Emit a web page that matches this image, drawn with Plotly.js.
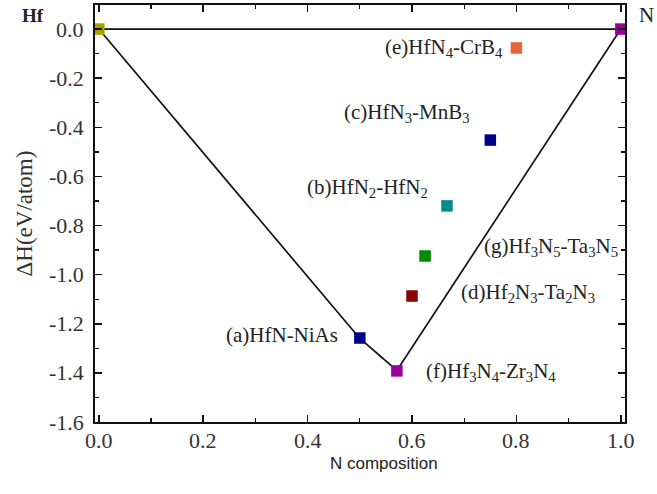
<!DOCTYPE html>
<html>
<head>
<meta charset="utf-8">
<script src="https://cdn.plot.ly/plotly-3.0.1.min.js"></script>
<style>body{margin:0;padding:0;background:#fff;} #chart{width:657px;height:494px;}</style>
</head>
<body>
<div id="chart"></div>
<script>
// Data
const hullX = [0, 0.5, 0.571, 1];
const hullY = [0, -1.26, -1.39, 0];
const refX = [0, 1];
const refY = [0, 0];
const ptX = [0, 1, 0.8, 0.75, 0.667, 0.625, 0.6, 0.5, 0.571];
const ptY = [0, 0, -0.077, -0.452, -0.72, -0.924, -1.087, -1.258, -1.392];
const ptColors = ['#a3a300', '#990099', '#e8633b', '#00008b', '#008b8b', '#008a00', '#8b0000', '#00008b', '#990099'];
const labelText = ['(e)HfN<sub>4</sub>-CrB<sub>4</sub>', '(c)HfN<sub>3</sub>-MnB<sub>3</sub>', '(b)HfN<sub>2</sub>-HfN<sub>2</sub>', '(g)Hf<sub>3</sub>N<sub>5</sub>-Ta<sub>3</sub>N<sub>5</sub>', '(d)Hf<sub>2</sub>N<sub>3</sub>-Ta<sub>2</sub>N<sub>3</sub>', '(a)HfN-NiAs', '(f)Hf<sub>3</sub>N<sub>4</sub>-Zr<sub>3</sub>N<sub>4</sub>'];
const labelX = [0.778, 0.715, 0.635, 0.734, 0.690, 0.462, 0.623];
const labelY = [-0.077, -0.342, -0.647, -0.888, -1.075, -1.246, -1.397];
const labelAnchor = ['right', 'right', 'right', 'left', 'left', 'right', 'left'];
const xTickVals = [0, 0.2, 0.4, 0.6, 0.8, 1.0];
const xTickText = ['0.0', '0.2', '0.4', '0.6', '0.8', '1.0'];
const xMinorVals = [0.1, 0.3, 0.5, 0.7, 0.9];
const yTickVals = [0, -0.2, -0.4, -0.6, -0.8, -1.0, -1.2, -1.4, -1.6];
const yTickText = ['0.0', '-0.2', '-0.4', '-0.6', '-0.8', '-1.0', '-1.2', '-1.4', '-1.6'];
const yMinorVals = [-0.1, -0.3, -0.5, -0.7, -0.9, -1.1, -1.3, -1.5];
const xTitle = 'N composition';
const yTitle = 'ΔH(eV/atom)';

const serif = 'Liberation Serif';
const sans = 'Liberation Sans';

const traces = [
  {x: refX, y: refY, mode: 'lines', line: {color: '#111', width: 1.7}, hoverinfo: 'skip'},
  {x: hullX, y: hullY, mode: 'lines', line: {color: '#111', width: 1.7}, hoverinfo: 'skip'},
  {x: ptX, y: ptY, mode: 'markers', marker: {symbol: 'square', size: 11.5, color: ptColors}}
];

const annotations = labelText.map((t, i) => ({
  x: labelX[i], y: labelY[i], xref: 'x', yref: 'y', text: t, showarrow: false,
  xanchor: labelAnchor[i], yanchor: 'middle', font: {family: serif, size: 21, color: '#222'}
}));
annotations.push({xref: 'paper', yref: 'paper', x: -0.117, y: 0.976, xanchor: 'center', yanchor: 'middle', text: '<b>Hf</b>', showarrow: false, font: {family: serif, size: 19, color: '#222'}});
annotations.push({xref: 'paper', yref: 'paper', x: 1.04, y: 0.976, xanchor: 'center', yanchor: 'middle', text: 'N', showarrow: false, font: {family: serif, size: 21, color: '#222'}});
// tick labels
xTickVals.forEach((v, i) => annotations.push({
  x: v, y: 0, xref: 'x', yref: 'paper', text: xTickText[i], showarrow: false,
  xanchor: 'center', yanchor: 'top', yshift: -4, font: {family: serif, size: 22, color: '#333'}
}));
yTickVals.forEach((v, i) => annotations.push({
  x: 0, y: v, xref: 'paper', yref: 'y', text: yTickText[i], showarrow: false,
  xanchor: 'right', yanchor: 'middle', xshift: -9, font: {family: serif, size: 22, color: '#333'}
}));
// axis titles
annotations.push({xref: 'paper', yref: 'paper', x: 0.545, y: 0, yanchor: 'top', xanchor: 'center', yshift: -30, text: xTitle, showarrow: false, font: {family: sans, size: 17, color: '#222'}});
annotations.push({xref: 'paper', yref: 'paper', x: 0, y: 0.50, xanchor: 'center', yanchor: 'middle', xshift: -71, textangle: -90, text: yTitle, showarrow: false, font: {family: serif, size: 23, color: '#333'}});

const minorAxis = {
  showgrid: false, zeroline: false, showline: false, showticklabels: false,
  ticks: 'inside', ticklen: 4, tickwidth: 1.3, tickcolor: '#111', tickmode: 'array', mirror: 'ticks'
};

const layout = {
  width: 657, height: 494,
  margin: {l: 95, r: 32, t: 5, b: 72},
  paper_bgcolor: '#fff', plot_bgcolor: '#fff',
  showlegend: false,
  xaxis: {
    showgrid: false, zeroline: false, showline: true, mirror: 'ticks', linecolor: '#111', linewidth: 1.7,
    ticks: 'inside', ticklen: 7, tickwidth: 1.5, tickcolor: '#111', showticklabels: false,
    range: [-0.0073, 1.008], tickmode: 'array', tickvals: xTickVals
  },
  yaxis: {
    showgrid: false, zeroline: false, showline: true, mirror: 'ticks', linecolor: '#111', linewidth: 1.7,
    ticks: 'inside', ticklen: 7, tickwidth: 1.5, tickcolor: '#111', showticklabels: false,
    range: [-1.6, 0.098], tickmode: 'array', tickvals: yTickVals
  },
  xaxis2: Object.assign({}, minorAxis, {overlaying: 'x', matches: 'x', anchor: 'y2', tickvals: xMinorVals}),
  yaxis2: Object.assign({}, minorAxis, {overlaying: 'y', matches: 'y', anchor: 'x2', tickvals: yMinorVals}),
  annotations: annotations
};

traces.push({x: [0.5], y: [-0.5], xaxis: 'x2', yaxis: 'y2', mode: 'markers', marker: {opacity: 0}, hoverinfo: 'skip'});

Plotly.newPlot('chart', traces, layout, {staticPlot: true, displayModeBar: false});
</script>
</body>
</html>
